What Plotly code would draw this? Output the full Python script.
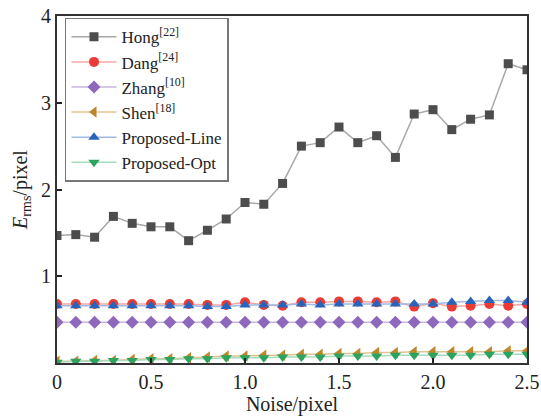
import plotly.graph_objects as go

noise = [round(i * 0.1, 1) for i in range(26)]
hong = [1.47, 1.48, 1.45, 1.69, 1.61, 1.57, 1.57, 1.41, 1.53, 1.66, 1.85, 1.83, 2.07,
        2.50, 2.54, 2.72, 2.54, 2.62, 2.37, 2.87, 2.92, 2.69, 2.81, 2.86, 3.45, 3.38]
dang = [0.68, 0.68, 0.68, 0.68, 0.68, 0.68, 0.68, 0.68, 0.67, 0.67, 0.70, 0.67, 0.66,
        0.70, 0.70, 0.71, 0.71, 0.70, 0.71, 0.65, 0.69, 0.65, 0.66, 0.68, 0.66, 0.68]
zhang = [0.47] * 26
shen = [0.02, 0.02, 0.03, 0.03, 0.04, 0.05, 0.05, 0.06, 0.07, 0.08, 0.08, 0.09, 0.09,
        0.10, 0.10, 0.11, 0.11, 0.12, 0.12, 0.13, 0.13, 0.13, 0.13, 0.13, 0.14, 0.14]
prop_line = [0.66, 0.66, 0.66, 0.66, 0.66, 0.66, 0.66, 0.66, 0.65, 0.65, 0.67, 0.67, 0.67,
             0.68, 0.67, 0.68, 0.68, 0.68, 0.68, 0.68, 0.68, 0.70, 0.71, 0.72, 0.72, 0.70]
prop_opt = [0.01, 0.02, 0.02, 0.03, 0.03, 0.04, 0.04, 0.05, 0.05, 0.06, 0.06, 0.06, 0.07,
            0.07, 0.07, 0.08, 0.08, 0.08, 0.09, 0.09, 0.09, 0.09, 0.09, 0.10, 0.10, 0.10]

names = ["Hong<sup>[22]</sup>", "Dang<sup>[24]</sup>", "Zhang<sup>[10]</sup>",
         "Shen<sup>[18]</sup>", "Proposed-Line", "Proposed-Opt"]
series = [hong, dang, zhang, shen, prop_line, prop_opt]
mcolors = ["#4d4d4d", "#ea3b35", "#8d68bd", "#c0862a", "#2a64b8", "#2ea35f"]
lcolors = ["#a8a8a8", "#f4a8a4", "#c9b6e0", "#e2c494", "#9fb9e4", "#a6dcbb"]
symbols = ["square", "circle", "diamond", "triangle-left", "triangle-up", "triangle-down"]
sizes = [9, 10, 10, 10, 10, 10]

fig = go.Figure()
for nm, ys, mc, lc, sy, sz in zip(names, series, mcolors, lcolors, symbols, sizes):
    fig.add_trace(go.Scatter(
        x=noise, y=ys, name=nm, mode="lines+markers",
        line=dict(color=lc, width=1.5),
        marker=dict(color=mc, symbol=sy, size=sz, line=dict(width=0)),
    ))

font_family = "Liberation Serif"
fig.update_layout(
    width=541, height=416,
    margin=dict(l=57, r=14, t=16, b=53, autoexpand=False),
    paper_bgcolor="white", plot_bgcolor="white",
    font=dict(family=font_family, size=20, color="#222"),
    showlegend=True,
    legend=dict(
        x=0.017, y=0.995, xanchor="left", yanchor="top",
        bgcolor="white", bordercolor="#777", borderwidth=1.5,
        font=dict(family=font_family, size=17, color="#222"),
        tracegroupgap=0, itemwidth=45, entrywidth=110,
    ),
    xaxis=dict(
        range=[0, 2.5], tickvals=[0, 0.5, 1.0, 1.5, 2.0, 2.5],
        ticktext=["0", "0.5", "1.0", "1.5", "2.0", "2.5"],
        ticks="inside", ticklen=5, tickwidth=1.5, tickcolor="#222",
        showline=True, linecolor="#333", linewidth=2, mirror=True,
        showgrid=False, zeroline=False, automargin=False,
        title=dict(text="Noise/pixel", font=dict(size=20), standoff=4),
    ),
    yaxis=dict(
        range=[0, 4], tickvals=[1, 2, 3, 4],
        ticks="inside", ticklen=5, tickwidth=1.5, tickcolor="#222",
        showline=True, linecolor="#333", linewidth=2, mirror=True,
        showgrid=False, zeroline=False, automargin=False,
        title=dict(text="<i>E</i><sub>rms</sub>/pixel", font=dict(size=20), standoff=8),
    ),
)

fig.write_html("out.html")
